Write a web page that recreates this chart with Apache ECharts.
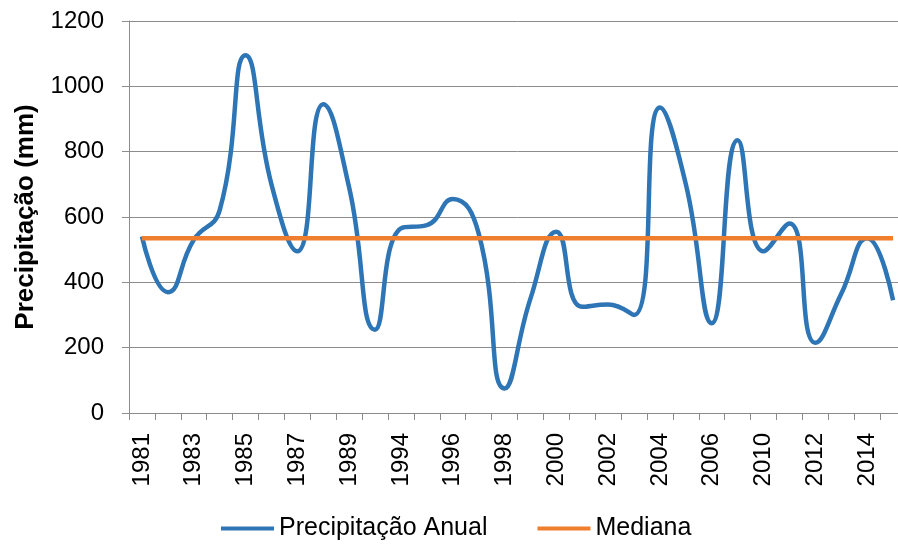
<!DOCTYPE html>
<html>
<head>
<meta charset="utf-8">
<script src="https://cdn.jsdelivr.net/npm/echarts@6/dist/echarts.min.js"></script>
<style>
  html, body { margin: 0; padding: 0; background: #fff; overflow: hidden; }
  #main { width: 906px; height: 545px; }
</style>
</head>
<body>
<div id="main"></div>
<script>
var years = ['1981','1982','1983','1984','1985','1986','1987','1988','1989','1993',
             '1994','1995','1996','1997','1998','1999','2000','2001','2002','2003',
             '2004','2005','2006','2009','2010','2011','2012','2013','2014','2015'];
var precipitacao = [540, 370, 530, 620, 1095, 700, 495, 945, 690, 255,
                    565, 575, 655, 550, 75, 350, 555, 325, 332, 300,
                    935, 700, 275, 835, 495, 580, 215, 365, 535, 345];
var mediana = [535, 535, 535, 535, 535, 535, 535, 535, 535, 535,
               535, 535, 535, 535, 535, 535, 535, 535, 535, 535,
               535, 535, 535, 535, 535, 535, 535, 535, 535, 535];
var yTicks = { min: 0, max: 1200, interval: 200 };

// chart is a little wider than the window, the last column is cut like in the original
var myChart = echarts.init(document.getElementById('main'));

var option = {
    animation: false,
    textStyle: {
        fontFamily: '"Liberation Sans", Arial, sans-serif'
    },
    grid: {
        left: 129,
        right: 0,
        top: 21,
        bottom: 132
    },
    legend: {
        left: 221,
        top: 516,
        padding: 0,
        icon: 'rect',
        itemWidth: 53,
        itemHeight: 4,
        itemGap: 50,
        textStyle: {
            fontSize: 25,
            color: '#000'
        },
        data: ['Precipitação Anual', 'Mediana']
    },
    xAxis: {
        type: 'category',
        data: years,
        boundaryGap: true,
        axisLine: { lineStyle: { color: '#8c8c8c', width: 1 } },
        axisTick: { show: true, interval: 0, length: 7, lineStyle: { color: '#8c8c8c' } },
        axisLabel: {
            interval: 1,
            rotate: 90,
            margin: 20,
            fontSize: 24,
            color: '#000'
        }
    },
    yAxis: {
        type: 'value',
        min: yTicks.min,
        max: yTicks.max,
        interval: yTicks.interval,
        name: 'Precipitação (mm)',
        nameLocation: 'middle',
        nameGap: 90,
        nameTextStyle: {
            fontSize: 26,
            fontWeight: 'bold',
            color: '#000'
        },
        axisLine: { show: true, lineStyle: { color: '#8c8c8c', width: 1 } },
        axisTick: { show: true, length: 7, lineStyle: { color: '#8c8c8c' } },
        axisLabel: {
            margin: 25,
            fontSize: 24,
            color: '#000',
            formatter: function (v) { return String(v); }
        },
        splitLine: { lineStyle: { color: '#8c8c8c', width: 1 } }
    },
    series: [
        {
            name: 'Precipitação Anual',
            type: 'line',
            data: precipitacao,
            smooth: 0.5,
            symbol: 'none',
            lineStyle: { color: '#2E75B6', width: 4.5 },
            itemStyle: { color: '#2E75B6' }
        },
        {
            name: 'Mediana',
            type: 'line',
            data: mediana,
            symbol: 'none',
            lineStyle: { color: '#F07E2F', width: 4.5 },
            itemStyle: { color: '#F07E2F' }
        }
    ]
};
myChart.setOption(option);
</script>
</body>
</html>
